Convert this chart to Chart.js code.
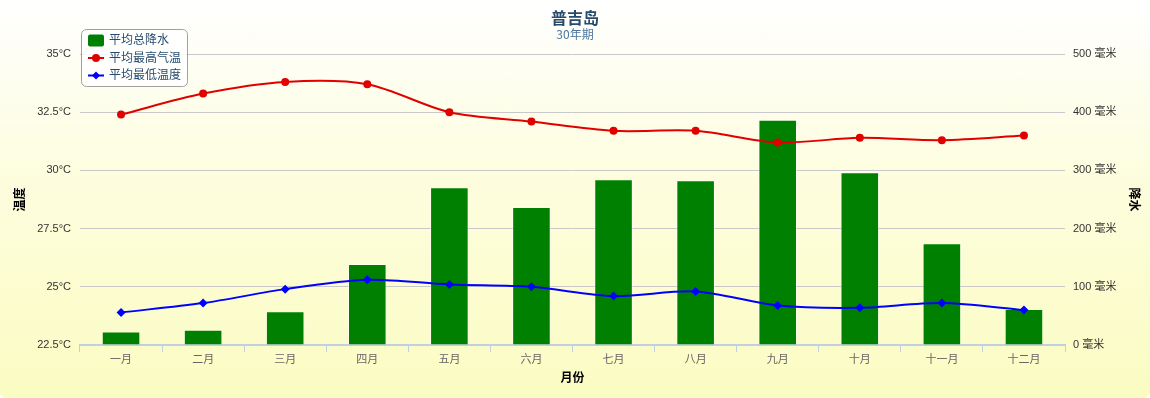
<!DOCTYPE html>
<html>
<head>
<meta charset="utf-8">
<script src="https://cdn.jsdelivr.net/npm/chart.js@4.4.0/dist/chart.umd.min.js"></script>
<style>
  html, body { margin: 0; padding: 0; background: #fff; }
  #wrap {
    position: relative; width: 1150px; height: 398px; overflow: hidden;
    border-radius: 6px;
    background: linear-gradient(to bottom, #ffffff 0%, #fdfdde 45%, #fbfcc2 100%);
  }
  #title {
    position: absolute; left: 0; width: 1150px; top: 5px; text-align: center;
    font: bold 16px "Noto Sans CJK SC", "DejaVu Sans", sans-serif; color: #274b6d;
  }
  #subtitle {
    position: absolute; left: 0; width: 1150px; top: 25px; text-align: center;
    font: 12px "Noto Sans CJK SC", "Liberation Sans", sans-serif; color: #4d759e;
  }
  canvas { position: absolute; left: 0; top: 0; }
</style>
</head>
<body>
<div id="wrap">
  <canvas id="c" width="1150" height="398"></canvas>
  <div id="title">普吉岛</div>
  <div id="subtitle">30年期</div>
</div>
<script>
const categories = ['一月','二月','三月','四月','五月','六月','七月','八月','九月','十月','十一月','十二月'];
const rainfall = [23, 26, 58, 139, 271, 237, 285, 283, 387, 297, 175, 62];
const maxTemp = [32.4, 33.3, 33.8, 33.7, 32.5, 32.1, 31.7, 31.7, 31.2, 31.4, 31.3, 31.5];
const minTemp = [23.9, 24.3, 24.9, 25.3, 25.1, 25.0, 24.6, 24.8, 24.2, 24.1, 24.3, 24.0];
const seriesNames = ['平均总降水', '平均最高气温', '平均最低温度'];
const tempTicks = [22.5, 25, 27.5, 30, 32.5, 35];
const rainTicks = [0, 100, 200, 300, 400, 500];

const FONT = '"Liberation Sans", "Noto Sans CJK SC", sans-serif';

const legendPlugin = {
  id: 'boxLegend',
  afterDatasetsDraw(chart) {
    const ctx = chart.ctx;
    const x = 81.5, y = 29.5, w = 106, h = 57, r = 5;
    ctx.save();
    ctx.beginPath();
    ctx.roundRect(x, y, w, h, r);
    ctx.fillStyle = 'rgba(255,255,255,0.85)';
    ctx.fill();
    ctx.strokeStyle = '#a0a0a0';
    ctx.lineWidth = 1;
    ctx.stroke();
    const ds = chart.data.datasets;
    const rows = [40.5, 58, 75.5];
    ctx.font = '12px ' + FONT;
    ctx.textBaseline = 'middle';
    ctx.textAlign = 'left';
    rows.forEach((ry, i) => {
      const d = ds[i];
      if (d.type === 'bar') {
        ctx.beginPath();
        ctx.roundRect(88, ry - 6, 16, 12, 2);
        ctx.fillStyle = d.backgroundColor;
        ctx.fill();
      } else {
        ctx.beginPath();
        ctx.moveTo(88, ry); ctx.lineTo(104, ry);
        ctx.strokeStyle = d.borderColor; ctx.lineWidth = 2; ctx.stroke();
        ctx.fillStyle = d.borderColor;
        ctx.beginPath();
        if (d.pointStyle === 'rectRot') {
          ctx.moveTo(96, ry - 4); ctx.lineTo(100, ry); ctx.lineTo(96, ry + 4); ctx.lineTo(92, ry);
          ctx.closePath();
        } else {
          ctx.arc(96, ry, 4, 0, Math.PI * 2);
        }
        ctx.fill();
      }
      ctx.fillStyle = '#274b6d';
      ctx.fillText(d.label, 109, ry + 0.5);
    });
    ctx.restore();
  }
};

new Chart(document.getElementById('c'), {
  data: {
    labels: categories,
    datasets: [
      {
        type: 'bar', label: seriesNames[0], data: rainfall, yAxisID: 'y1',
        backgroundColor: '#008000', borderColor: 'rgba(255,255,255,0.55)', borderWidth: 1,
        barPercentage: 0.47, categoryPercentage: 1.0, order: 3
      },
      {
        type: 'line', label: seriesNames[1], data: maxTemp, yAxisID: 'y',
        borderColor: '#e00000', backgroundColor: '#e00000', borderWidth: 2,
        pointRadius: 4, pointHoverRadius: 4, pointBackgroundColor: '#e00000', pointBorderWidth: 0,
        pointStyle: 'circle', tension: 0.3, order: 1
      },
      {
        type: 'line', label: seriesNames[2], data: minTemp, yAxisID: 'y',
        borderColor: '#0000ff', backgroundColor: '#0000ff', borderWidth: 2,
        pointRadius: 4.5, pointHoverRadius: 4.5, pointBackgroundColor: '#0000ff', pointBorderWidth: 0,
        pointStyle: 'rectRot', tension: 0.3, order: 2
      }
    ]
  },
  options: {
    responsive: false,
    animation: false,
    layout: { padding: { top: 54, left: 9, right: 5, bottom: 8 } },
    plugins: {
      legend: { display: false },
      title: { display: false },
      tooltip: { enabled: false }
    },
    scales: {
      x: {
        offset: true,
        grid: { display: true, drawOnChartArea: false, drawTicks: true, tickLength: 7, color: '#c0d0e0', offset: true },
        border: { display: true, color: '#c0d0e0', width: 2 },
        ticks: { color: '#666666', font: { size: 11, family: FONT }, padding: 1, maxRotation: 0 },
        title: { display: true, text: '月份', color: '#000', font: { size: 12, weight: 'bold', family: FONT }, padding: { top: 4, bottom: 4 } },
        afterFit(s) { s.height = 45; }
      },
      y: {
        position: 'left', min: 22.5, max: 35,
        afterBuildTicks(s) { s.ticks = tempTicks.map(v => ({ value: v })); },
        grid: { color: '#c8c8c8', lineWidth: 1, drawTicks: false },
        border: { display: false },
        ticks: { color: '#333', font: { size: 11, family: FONT }, padding: 9, callback: v => v + '°C' },
        title: { display: true, text: '温度', color: '#000', font: { size: 12, weight: 'bold', family: FONT } },
        afterFit(s) { s.width = 71; }
      },
      y1: {
        position: 'right', min: 0, max: 500,
        afterBuildTicks(s) { s.ticks = rainTicks.map(v => ({ value: v })); },
        grid: { drawOnChartArea: false, drawTicks: false },
        border: { display: false },
        ticks: { color: '#333', font: { size: 11, family: FONT }, padding: 8, callback: v => v + ' 毫米' },
        title: { display: true, text: '降水', color: '#000', font: { size: 12, weight: 'bold', family: FONT } },
        afterFit(s) { s.width = 80; }
      }
    }
  },
  plugins: [legendPlugin]
});
</script>
</body>
</html>
